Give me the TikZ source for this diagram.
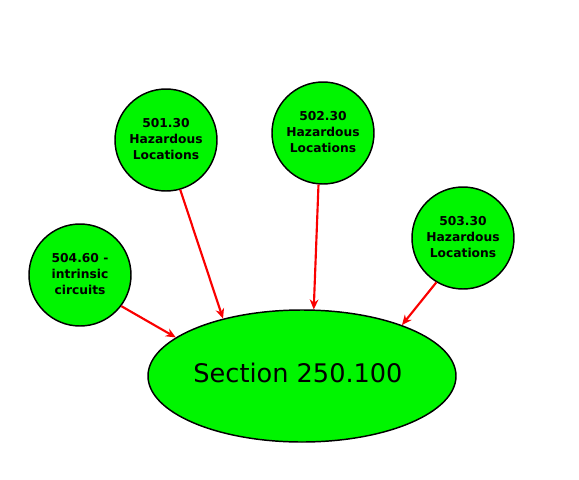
\documentclass[tikz,border=0pt]{standalone}
\usepackage{fontspec}
\setmainfont{DejaVu Sans}
\usetikzlibrary{arrows.meta,shapes.geometric}
\definecolor{bubblegreen}{RGB}{0,245,0}
\definecolor{arrowred}{RGB}{250,0,0}
\tikzset{
  topic/.style={circle, draw=black, line width=1.1pt, fill=bubblegreen, inner sep=0pt,
    minimum size=76.5pt, align=center, font=\fontsize{9.2}{12}\selectfont\bfseries},
  hub/.style={ellipse, draw=black, line width=1.1pt, fill=bubblegreen, inner sep=0pt,
    minimum width=231pt, minimum height=99pt, font=\fontsize{19.2}{22}\selectfont},
  link/.style={draw=arrowred, line width=1.6pt, -{Stealth[length=7.5pt,width=6.5pt]}}
}
\begin{document}
\begin{tikzpicture}[x=0.75pt,y=-0.75pt]
\useasboundingbox (0,0) rectangle (579,479);
\node[hub] (sec) at (302,376) {\raisebox{4.5pt}{Section 250.100}\hspace*{6pt}};
\node[topic] (a) at (166,140) {\raisebox{2pt}{\begin{tabular}{@{}c@{}}501.30\\Hazardous\\Locations\end{tabular}}};
\node[topic] (b) at (323,133) {\raisebox{2pt}{\begin{tabular}{@{}c@{}}502.30\\Hazardous\\Locations\end{tabular}}};
\node[topic] (c) at (463,238) {\raisebox{2pt}{\begin{tabular}{@{}c@{}}503.30\\Hazardous\\Locations\end{tabular}}};
\node[topic] (d) at (80,275) {\raisebox{1pt}{\begin{tabular}{@{}c@{}}504.60 -\\intrinsic\\circuits\end{tabular}}};
\draw[link] (a.-74) -- (sec.144);
\draw[link] (b.-95) -- (sec.80);
\draw[link] (c.-121) -- (sec.27);
\draw[link] (d.-37) -- (sec.163);
\end{tikzpicture}
\end{document}
